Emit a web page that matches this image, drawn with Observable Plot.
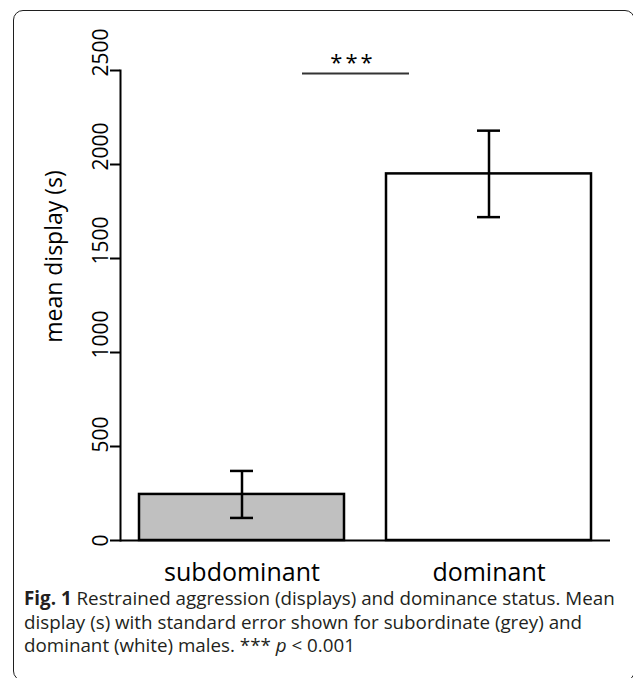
<!DOCTYPE html>
<html><head><meta charset="utf-8">
<script src="https://cdn.jsdelivr.net/npm/d3@7"></script>
<script src="https://cdn.jsdelivr.net/npm/@observablehq/plot@0.6"></script>
<style>
html,body{margin:0;padding:0;background:#fff;width:633px;height:678px;overflow:hidden;}
#frame{position:absolute;left:12.5px;top:10px;width:622px;height:671px;box-sizing:border-box;border:1.6px solid #1f1f1f;border-radius:10px;}
#chart{position:absolute;left:0;top:0;}
#caption{position:absolute;left:24px;top:587px;font-family:"Open Sans";font-size:18.8px;line-height:23.5px;color:#231f20;white-space:nowrap;}
</style></head><body>
<div id="frame"></div>
<div id="chart"></div>
<div id="caption"><b>Fig. 1</b> Restrained aggression (displays) and dominance status. Mean<br>display (s) with standard error shown for subordinate (grey) and<br>dominant (white) males. *** <i>p</i> &lt; 0.001</div>
<script>
const categories = ["subdominant", "dominant"];
const means = [245, 1950];
const stdErrors = [125, 230];
const barFills = ["#c0c0c0", "#ffffff"];
const yTicks = [0, 500, 1000, 1500, 2000, 2500];
const yLabel = "mean display (s)";
const sigLevel = 2484;
const sigLabel = "***";

const data = categories.map((c, i) => ({group: c, mean: means[i], lo: means[i] - stdErrors[i], hi: means[i] + stdErrors[i], fill: barFills[i]}));
const sig = [{from: categories[0], y: sigLevel, label: sigLabel}];

const chart = Plot.plot({
  width: 633, height: 590,
  marginLeft: 120, marginRight: 23, marginTop: 70, marginBottom: 50,
  style: {fontFamily: "Open Sans", color: "#000", background: "transparent", overflow: "visible"},
  x: {domain: categories, paddingInner: 0.17, paddingOuter: 0.073, label: null},
  y: {domain: [0, 2500], label: null},
  color: {type: "identity"},
  marks: [
    Plot.barY(data, {x: "group", y: "mean", fill: "fill", stroke: "#000", strokeWidth: 2.5}),
    Plot.ruleX(data, {x: "group", y1: "lo", y2: "hi", stroke: "#000", strokeWidth: 2.5}),
    Plot.tickY(data, {x: "group", y: "lo", insetLeft: 91, insetRight: 91, stroke: "#000", strokeWidth: 2.5}),
    Plot.tickY(data, {x: "group", y: "hi", insetLeft: 91, insetRight: 91, stroke: "#000", strokeWidth: 2.5}),
    Plot.ruleY([0], {stroke: "#000", strokeWidth: 2}),
    Plot.frame({anchor: "left", stroke: "#000", strokeWidth: 2}),
    Plot.axisY({ticks: yTicks, tickSize: 10, tickFormat: () => "", label: null, strokeWidth: 2}),
    Plot.text(yTicks, {y: d => d, text: d => String(d), frameAnchor: "left", rotate: -90, textAnchor: "start", lineAnchor: "bottom", dx: -13, dy: 6, fontSize: 21}),
    Plot.axisX({tickSize: 0, tickPadding: 23, fontSize: 25, label: null}),
    Plot.text([yLabel], {frameAnchor: "left", rotate: -90, textAnchor: "middle", lineAnchor: "middle", dx: -66, dy: -49, fontSize: 23}),
    Plot.tickY(sig, {x: "from", y: "y", insetLeft: 163, insetRight: -65, stroke: "#333", strokeWidth: 2}),
    Plot.text(sig, {x: "from", y: "y", text: "label", dx: 111, dy: -4, lineAnchor: "bottom", fontSize: 22})
  ]
});
d3.select(chart).selectAll("text").filter(function() { return this.textContent === sigLabel; }).attr("letter-spacing", 3);
document.getElementById("chart").appendChild(chart);
</script>
</body></html>
